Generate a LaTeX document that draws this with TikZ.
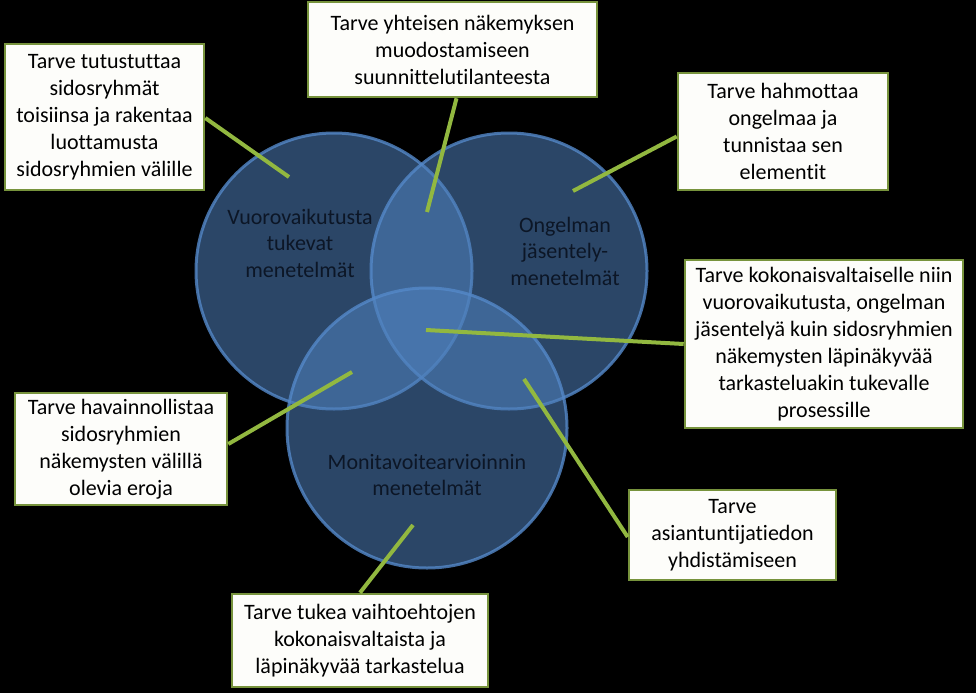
\documentclass[tikz,border=0pt]{standalone}
\usepackage{fontspec}
\setmainfont{Carlito}[Ligatures=NoCommon]
\definecolor{cblue}{RGB}{79,129,189}
\definecolor{cedge}{RGB}{84,136,200}
\definecolor{ctext}{RGB}{12,22,38}
\definecolor{lgreen}{RGB}{146,184,64}
\definecolor{bgreen}{RGB}{119,147,60}
\definecolor{boxfill}{RGB}{253,253,250}
\tikzset{
  venn/.style={fill=cblue, fill opacity=0.55, draw=cedge, draw opacity=0.8, line width=3pt},
  ctxt/.style={text=ctext, align=center, font=\fontsize{22}{26.5}\selectfont, inner sep=0pt},
  needbox/.style={draw=bgreen, line width=2.6pt, fill=boxfill, align=center, inner sep=0pt,
    font=\fontsize{22}{27}\selectfont, text=black},
  conn/.style={draw=lgreen, line width=4pt}
}
\begin{document}
\begin{tikzpicture}[x=1pt,y=-1pt]
\fill[black] (0,0) rectangle (976,693);
\useasboundingbox (0,0) rectangle (976,693);
% circles, each filled and outlined in turn
\path[venn] (334,271) circle (138);
\path[venn] (509,271) circle (138);
\path[venn] (427,428) circle (140);
\node[ctxt] (t1) at (300,243) {Vuorovaikutusta\\tukevat\\menetelmät};
\node[ctxt] (t2) at (565,251) {Ongelman\\jäsentely-\\menetelmät};
\node[ctxt] (t3) at (427,475) {Monitavoitearvioinnin\\menetelmät};
% end points inside circles
\coordinate (e1) at (289,177);
\coordinate (e2) at (427,212);
\coordinate (e3) at (573,191);
\coordinate (e4) at (426,330);
\coordinate (e5) at (352,372);
\coordinate (e6) at (524,379);
\coordinate (e7) at (413,525);
% boxes
\node[needbox, minimum width=199pt, minimum height=146pt] (b1) at (104.5,117)
  {Tarve tutustuttaa\\sidosryhmät\\toisiinsa ja rakentaa\\luottamusta\\sidosryhmien välille};
\node[needbox, minimum width=289pt, minimum height=95pt] (b2) at (452.5,49.5)
  {Tarve yhteisen näkemyksen\\muodostamiseen\\suunnittelutilanteesta};
\node[needbox, minimum width=210pt, minimum height=117pt] (b3) at (783,131.5)
  {Tarve hahmottaa\\ongelmaa ja\\tunnistaa sen\\elementit};
\node[needbox, minimum width=278pt, minimum height=168pt] (b4) at (824,344)
  {Tarve kokonaisvaltaiselle niin\\vuorovaikutusta, ongelman\\jäsentelyä kuin sidosryhmien\\näkemysten läpinäkyvää\\tarkasteluakin tukevalle\\prosessille};
\node[needbox, minimum width=212pt, minimum height=112pt] (b5) at (121,449)
  {Tarve havainnollistaa\\sidosryhmien\\näkemysten välillä\\olevia eroja};
\node[needbox, minimum width=207pt, minimum height=90pt] (b6) at (732.5,535)
  {Tarve\\asiantuntijatiedon\\yhdistämiseen};
\node[needbox, minimum width=256pt, minimum height=93pt] (b7) at (360,640.5)
  {Tarve tukea vaihtoehtojen\\kokonaisvaltaista ja\\läpinäkyvää tarkastelua};
% connectors
\draw[conn] ([yshift=-1pt]b1.east) -- (e1);
\draw[conn] ([xshift=4pt]b2.south) -- (e2);
\draw[conn] ([yshift=-5pt]b3.west) -- (e3);
\draw[conn] (b4.west) -- (e4);
\draw[conn] ([yshift=5pt]b5.east) -- (e5);
\draw[conn] ([yshift=-2pt]b6.west) -- (e6);
\draw[conn] (b7.north) -- (e7);
\end{tikzpicture}
\end{document}
